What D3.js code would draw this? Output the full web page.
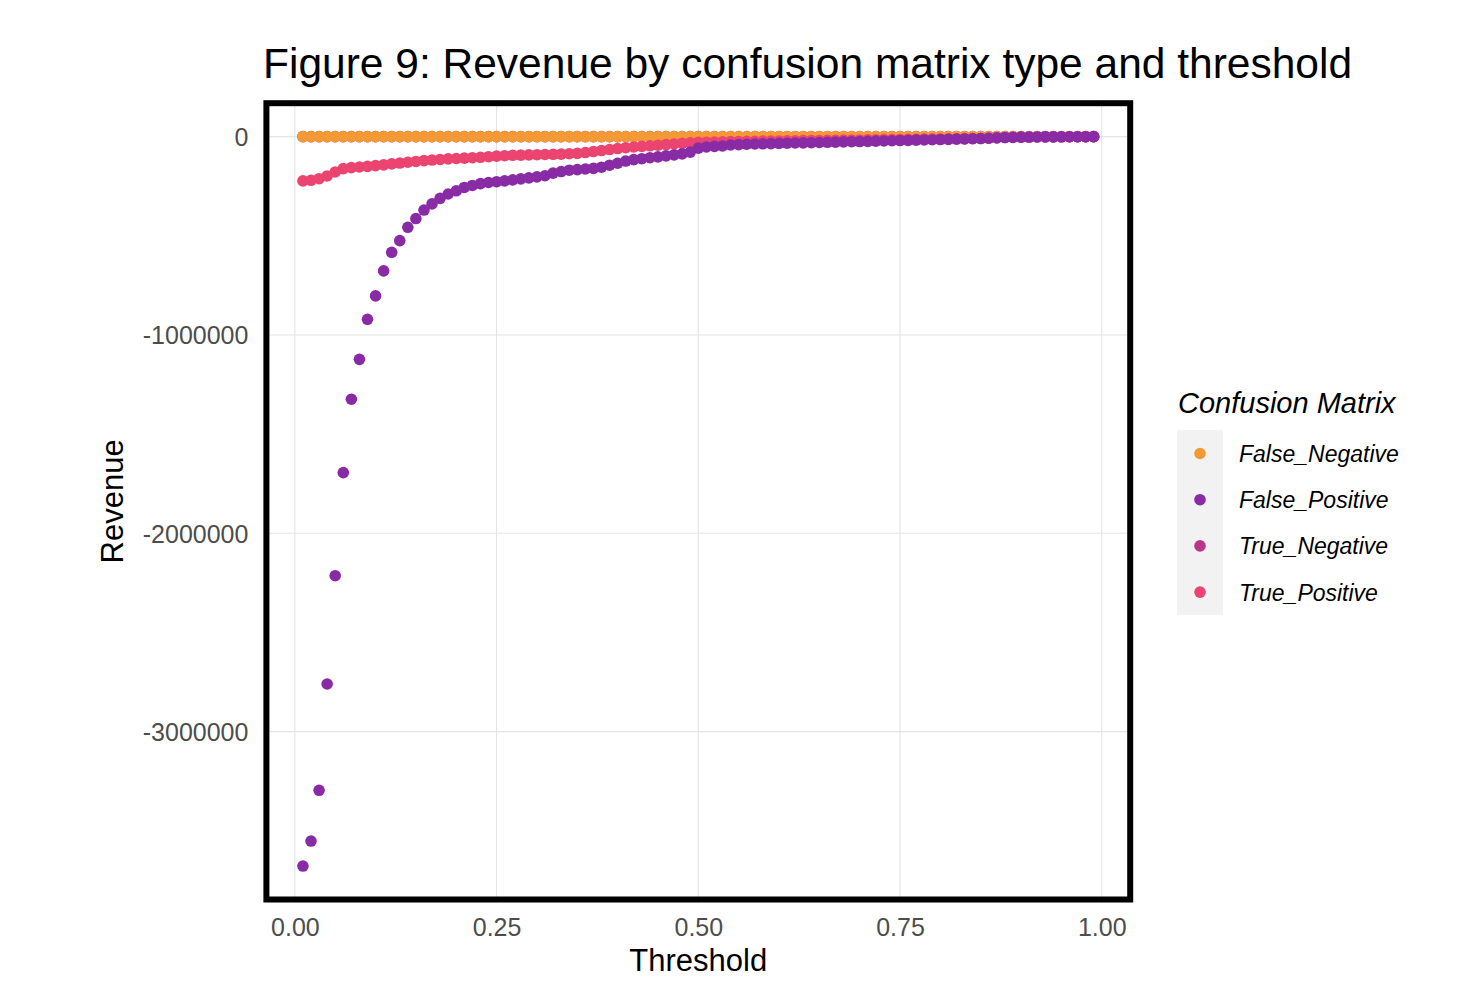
<!DOCTYPE html>
<html>
<head>
<meta charset="utf-8">
<script src="https://cdn.jsdelivr.net/npm/d3@7"></script>
<style>
  html, body { margin: 0; padding: 0; background: #ffffff; }
  svg { display: block; font-family: "Liberation Sans", Arial, Helvetica, sans-serif; }
</style>
</head>
<body>
<svg id="chart" width="1468" height="1004"></svg>
<script>
// ---------------- data ----------------
const thresholds = [
  0.01,0.02,0.03,0.04,0.05,0.06,0.07,0.08,0.09,0.10,
  0.11,0.12,0.13,0.14,0.15,0.16,0.17,0.18,0.19,0.20,
  0.21,0.22,0.23,0.24,0.25,0.26,0.27,0.28,0.29,0.30,
  0.31,0.32,0.33,0.34,0.35,0.36,0.37,0.38,0.39,0.40,
  0.41,0.42,0.43,0.44,0.45,0.46,0.47,0.48,0.49,0.50,
  0.51,0.52,0.53,0.54,0.55,0.56,0.57,0.58,0.59,0.60,
  0.61,0.62,0.63,0.64,0.65,0.66,0.67,0.68,0.69,0.70,
  0.71,0.72,0.73,0.74,0.75,0.76,0.77,0.78,0.79,0.80,
  0.81,0.82,0.83,0.84,0.85,0.86,0.87,0.88,0.89,0.90,
  0.91,0.92,0.93,0.94,0.95,0.96,0.97,0.98,0.99
];

const falseNegative = [
  0,0,0,0,0,0,0,0,0,0, 0,0,0,0,0,0,0,0,0,0,
  0,0,0,0,0,0,0,0,0,0, 0,0,0,0,0,0,0,0,0,0,
  0,0,0,0,0,0,0,0,0,0, 0,0,0,0,0,0,0,0,0,0,
  0,0,0,0,0,0,0,0,0,0, 0,0,0,0,0,0,0,0,0,0,
  0,0,0,0,0,0,0,0,0,0, 0,0,0,0,0,0,0,0,0
];

const falsePositive = [
  -3678000,-3552000,-3296000,-2760000,-2214000,-1694000,-1324000,-1123000,-921000,-803000,
  -677000,-583000,-524000,-457000,-413000,-370000,-339000,-311000,-289000,-273000,
  -256000,-246000,-237000,-231000,-227000,-223000,-218000,-213000,-208000,-203000,
  -197000,-184000,-176000,-169000,-166000,-163000,-160000,-154000,-144000,-134000,
  -123000,-116000,-111000,-106000,-102000,-97000,-92000,-87000,-78000,-58000,
  -52000,-49000,-47000,-42000,-40000,-38000,-37000,-36000,-35000,-34000,
  -33000,-32000,-31500,-30500,-29500,-28500,-27500,-26500,-25500,-24500,
  -23500,-22500,-21500,-20500,-19500,-18500,-17500,-16500,-15500,-14500,
  -13500,-12500,-11500,-10500,-9500,-8000,-6000,-4500,-3500,-2500,
  -2000,-1500,-1200,-900,-700,-500,-300,-150,0
];

const trueNegative = [
  0,0,0,0,0,0,0,0,0,0, 0,0,0,0,0,0,0,0,0,0,
  0,0,0,0,0,0,0,0,0,0, 0,0,0,0,0,0,0,0,0,0,
  0,0,0,0,0,0,0,0,0,0, 0,0,0,0,0,0,0,0,0,0,
  0,0,0,0,0,0,0,0,0,0, 0,0,0,0,0,0,0,0,0,0,
  0,0,0,0,0,0,0,0,0,0, 0,0,0,0,0,0,0,0,0
];

const truePositive = [
  -223000,-220000,-212000,-198000,-178000,-161000,-156000,-153000,-150000,-146000,
  -142000,-137000,-133000,-129000,-125000,-121000,-118000,-115000,-112000,-110000,
  -108000,-106000,-104000,-101000,-98000,-96000,-94000,-93000,-92000,-91000,
  -90000,-89000,-88000,-86000,-84000,-80000,-75000,-70000,-65000,-60000,
  -56000,-52000,-49000,-46000,-43000,-40000,-37000,-34000,-31000,-29000,
  -28000,-27000,-26000,-25000,-24000,-23500,-23000,-22500,-22000,-21500,
  -21000,-20500,-20000,-19500,-19000,-18500,-18000,-17500,-17000,-16500,
  -16000,-15500,-15000,-14500,-14000,-13500,-13000,-12500,-12000,-11500,
  -11000,-10500,-10000,-9500,-9000,-7500,-5500,-4000,-3000,-2200,
  -1800,-1400,-1100,-800,-600,-400,-250,-100,0
];

const seriesNames = ["False_Negative","False_Positive","True_Negative","True_Positive"];
const seriesColors = ["#F39A37","#8A2BA6","#B9368A","#EC4470"];
const drawOrder = ["True_Negative","False_Negative","True_Positive","False_Positive"];
const xTicks = [0, 0.25, 0.5, 0.75, 1.0];
const yTicks = [-3000000, -2000000, -1000000, 0];

const titleText = "Figure 9: Revenue by confusion matrix type and threshold";
const xTitle = "Threshold";
const yTitle = "Revenue";
const legendTitle = "Confusion Matrix";

// ---------------- build ----------------
const valuesBySeries = {
  "False_Negative": falseNegative,
  "False_Positive": falsePositive,
  "True_Negative": trueNegative,
  "True_Positive": truePositive
};
const color = d3.scaleOrdinal().domain(seriesNames).range(seriesColors);

const svg = d3.select("#chart");
const panel = { left: 263.4, right: 1133.2, top: 100.2, bottom: 902.5 };

const xExt = d3.extent(thresholds);
const xPad = (xExt[1] - xExt[0]) * 0.05;
const allVals = [].concat(falseNegative, falsePositive, trueNegative, truePositive);
const yExt = d3.extent(allVals);
const yPad = (yExt[1] - yExt[0]) * 0.05;

const x = d3.scaleLinear().domain([xExt[0] - xPad, xExt[1] + xPad]).range([panel.left, panel.right]);
const y = d3.scaleLinear().domain([yExt[0] - yPad, yExt[1] + yPad]).range([panel.bottom, panel.top]);

// grid
const grid = svg.append("g");
grid.selectAll("line.vx").data(xTicks).enter().append("line")
  .attr("x1", d => x(d)).attr("x2", d => x(d))
  .attr("y1", panel.top).attr("y2", panel.bottom)
  .attr("stroke", "#E4E4E4").attr("stroke-width", 1.1);
grid.selectAll("line.hy").data(yTicks).enter().append("line")
  .attr("y1", d => y(d)).attr("y2", d => y(d))
  .attr("x1", panel.left).attr("x2", panel.right)
  .attr("stroke", "#E4E4E4").attr("stroke-width", 1.1);

// points
const pts = svg.append("g");
drawOrder.forEach(name => {
  const vals = valuesBySeries[name];
  pts.append("g").selectAll("circle")
    .data(thresholds.map((t, i) => ({ t: t, v: vals[i] })))
    .enter().append("circle")
    .attr("cx", d => x(d.t))
    .attr("cy", d => y(d.v))
    .attr("r", 5.8)
    .attr("fill", color(name));
});

// border
svg.append("rect")
  .attr("x", panel.left + 3).attr("y", panel.top + 3)
  .attr("width", panel.right - panel.left - 6)
  .attr("height", panel.bottom - panel.top - 6)
  .attr("fill", "none").attr("stroke", "#000").attr("stroke-width", 6);

// axes (tick labels only, like ggplot minimal)
const xAxis = d3.axisBottom(x).tickValues(xTicks).tickFormat(d3.format(".2f")).tickSize(0).tickPadding(0);
const xg = svg.append("g").attr("transform", `translate(0,${panel.bottom + 7})`).call(xAxis);
xg.select(".domain").remove();
xg.selectAll("text").attr("fill", "#4D4D4D").attr("font-size", 25)
  .attr("dy", "0.71em").attr("y", 9);

const yAxis = d3.axisLeft(y).tickValues(yTicks).tickFormat(d => String(Math.round(d))).tickSize(0).tickPadding(0);
const yg = svg.append("g").attr("transform", `translate(${panel.left - 15},0)`).call(yAxis);
yg.select(".domain").remove();
yg.selectAll("text").attr("fill", "#4D4D4D").attr("font-size", 25).attr("dy", "0.35em");

// titles
svg.append("text").attr("x", 263).attr("y", 78)
  .attr("font-size", 42.5).attr("fill", "#000").text(titleText);
svg.append("text").attr("x", (panel.left + panel.right) / 2).attr("y", 971)
  .attr("text-anchor", "middle").attr("font-size", 31).attr("fill", "#000").text(xTitle);
svg.append("text")
  .attr("transform", `translate(123,${(panel.top + panel.bottom) / 2}) rotate(-90)`)
  .attr("text-anchor", "middle").attr("font-size", 31).attr("fill", "#000").text(yTitle);

// legend
const lg = svg.append("g");
lg.append("text").attr("x", 1178).attr("y", 413)
  .attr("font-size", 29).attr("font-style", "italic").attr("fill", "#000").text(legendTitle);
lg.append("rect").attr("x", 1177).attr("y", 430).attr("width", 46).attr("height", 185)
  .attr("fill", "#F2F2F2");
const items = lg.selectAll("g.item").data(seriesNames).enter().append("g")
  .attr("transform", (d, i) => `translate(0,${453.5 + i * 46.2})`);
items.append("circle").attr("cx", 1200).attr("cy", 0).attr("r", 5.8).attr("fill", d => color(d));
items.append("text").attr("x", 1239).attr("y", 8.5)
  .attr("font-size", 23).attr("font-style", "italic").attr("fill", "#000").text(d => d);
</script>
</body>
</html>
